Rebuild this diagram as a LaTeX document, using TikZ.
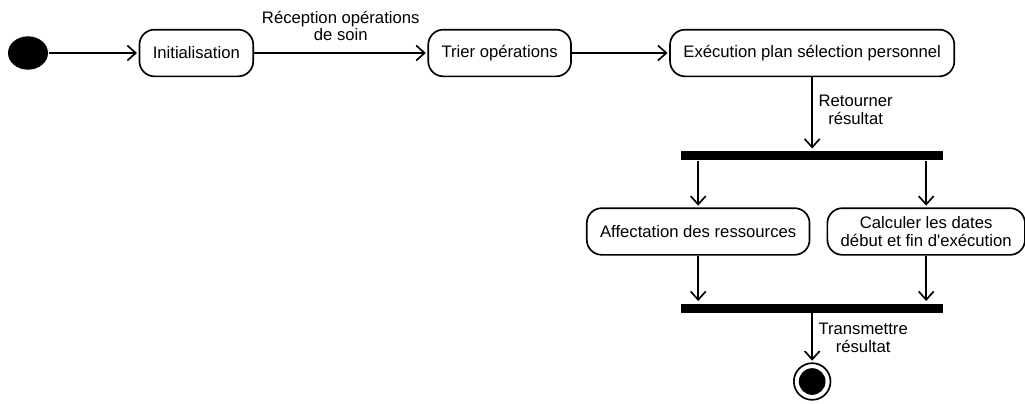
\documentclass[tikz,border=0pt]{standalone}
\usepackage{fontspec}
\setmainfont{Liberation Sans}
\usetikzlibrary{arrows.meta, positioning, shapes.geometric}

\tikzset{
  activity/.style={draw, rounded corners=9pt, minimum height=28pt, inner xsep=8pt, align=center},
  syncbar/.style={rectangle, fill, inner sep=0pt, minimum width=157pt, minimum height=5.4pt},
  startdot/.style={ellipse, fill, inner sep=0pt, minimum width=24pt, minimum height=20pt},
  enddot/.style={circle, draw, inner sep=0pt, minimum size=22pt,
    path picture={\fill (path picture bounding box.center) circle (8pt);}}
}

\begin{document}
\begin{tikzpicture}[>={Straight Barb[length=5pt,width=9pt]}, line width=1pt, shorten >=1pt, on grid, auto, font=\fontsize{10}{10.5}\selectfont]
  \useasboundingbox (0,0) rectangle (615pt,-241.8pt);

  \node[startdot] (start) at (16.8pt,-31.8pt) {};
  \node[activity] (init)   [right=101pt of start] {Initialisation};
  \node[activity] (trier)  [right=182pt of init] {Trier opérations};
  \node[activity] (exec)   [right=187.5pt of trier] {Exécution plan sélection personnel};
  \node[syncbar]  (fork)   [below=61.5pt of exec] {};
  \node[activity] (affect) [below left=45.6pt and 68.4pt of fork] {Affectation des ressources};
  \node[activity] (calc)   [below right=45.6pt and 68.4pt of fork] {Calculer les dates\\début et fin d\textquotesingle exécution};
  \node[syncbar]  (join)   [below=91.5pt of fork] {};
  \node[enddot]   (end)    [below=44.1pt of join] {};

  \path[->] (start) edge (init)
            (init) edge node[align=center, yshift=3.5pt] {Réception opérations\\de soin} (trier)
            (trier) edge (exec)
            (exec) edge node[align=center, pos=0.45] {Retourner\\résultat} (fork)
            (fork.south -| affect) edge (affect)
            (fork.south -| calc) edge (calc)
            (affect) edge (affect |- join.north)
            (calc) edge (calc |- join.north)
            (join) edge node[align=center] {Transmettre\\résultat} (end);
\end{tikzpicture}
\end{document}
